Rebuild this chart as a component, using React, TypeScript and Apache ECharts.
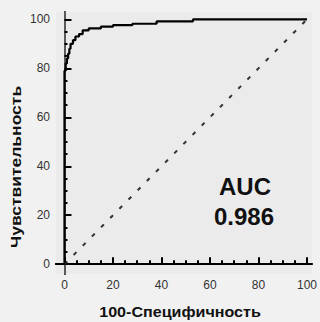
import React, { useEffect, useRef } from "react";
import * as echarts from "echarts";

const rocX = [0, 0, 0.5, 0.5, 1, 1, 1.5, 1.5, 2, 2, 2.5, 2.5, 3.5, 3.5, 4.5, 4.5, 6, 6, 7.5, 7.5, 10, 10, 15, 15, 20, 20, 28, 28, 38, 38, 53, 53, 100];
const rocY = [0, 79, 79, 82, 82, 84, 84, 86, 86, 88, 88, 90, 90, 91.5, 91.5, 93, 93, 94, 94, 95.5, 95.5, 96.3, 96.3, 97, 97, 97.6, 97.6, 98.2, 98.2, 99.2, 99.2, 100, 100];
const diagX = [0, 100];
const diagY = [0, 100];
const majorTicks = [0, 20, 40, 60, 80, 100];
const minorTicks = [5, 10, 15, 25, 30, 35, 45, 50, 55, 65, 70, 75, 85, 90, 95];
const xTitle = "100-Специфичность";
const yTitle = "Чувствительность";
const aucLabel = "AUC";
const aucValue = "0.986";

const X_MIN = -3.5, X_MAX = 102, Y_MIN = -4, Y_MAX = 103;

export default function App() {
  const ref = useRef<HTMLDivElement>(null);
  useEffect(() => {
    if (!ref.current) return;
    const chart = echarts.init(ref.current, null, { renderer: "svg" });
    const font = "Liberation Sans";
    const baseAxis = (extra: any) => ({
      type: "value",
      min: extra.isX ? X_MIN : Y_MIN,
      max: extra.isX ? X_MAX : Y_MAX,
      splitLine: { show: false },
      ...extra.opts,
    });
    chart.setOption({
      animation: false,
      backgroundColor: "#f1f1f1",
      grid: { left: 56, right: 7, top: 12, bottom: 48, show: true, backgroundColor: "#ebebeb", borderWidth: 0 },
      xAxis: [
        baseAxis({ isX: true, opts: {
          position: "bottom",
          axisLine: { show: true, lineStyle: { color: "#000", width: 2 } },
          axisTick: { show: true, inside: true, length: 7, customValues: majorTicks, lineStyle: { color: "#000", width: 2 } },
          axisLabel: { show: true, customValues: majorTicks, margin: 5, color: "#333", fontSize: 12, fontFamily: font },
        } }),
        baseAxis({ isX: true, opts: {
          position: "bottom",
          axisLine: { show: false },
          axisTick: { show: true, inside: true, length: 4, customValues: minorTicks, lineStyle: { color: "#000", width: 2 } },
          axisLabel: { show: false },
        } }),
        baseAxis({ isX: true, opts: {
          position: "top",
          axisLine: { show: true, lineStyle: { color: "#000", width: 2 } },
          axisTick: { show: false },
          axisLabel: { show: false },
        } }),
      ],
      yAxis: [
        baseAxis({ isX: false, opts: {
          position: "left",
          axisLine: { show: true, lineStyle: { color: "#000", width: 2 } },
          axisTick: { show: true, inside: true, length: 7, customValues: majorTicks, lineStyle: { color: "#000", width: 2 } },
          axisLabel: { show: true, customValues: majorTicks, margin: 6, color: "#333", fontSize: 12, fontFamily: font },
        } }),
        baseAxis({ isX: false, opts: {
          position: "left",
          axisLine: { show: false },
          axisTick: { show: true, inside: true, length: 3, customValues: minorTicks, lineStyle: { color: "#000", width: 2 } },
          axisLabel: { show: false },
        } }),
        baseAxis({ isX: false, opts: {
          position: "right",
          axisLine: { show: true, lineStyle: { color: "#777", width: 1.5 } },
          axisTick: { show: false },
          axisLabel: { show: false },
        } }),
      ],
      series: [
        {
          type: "line",
          data: diagX.map((x, i) => [x, diagY[i]]),
          symbol: "none",
          lineStyle: { color: "#333", width: 2, type: [4, 9] },
          silent: true,
        },
        {
          type: "line",
          data: rocX.map((x, i) => [x, rocY[i]]),
          symbol: "none",
          lineStyle: { color: "#000", width: 2.2 },
          silent: true,
        },
      ],
      graphic: [
        { type: "text", x: 180, y: 312, scaleX: 1.15, style: { text: xTitle, font: `bold 14px '${font}'`, fill: "#111", align: "center", verticalAlign: "middle" } },
        { type: "text", x: 16, y: 167, rotation: Math.PI / 2, scaleX: 1.25, style: { text: yTitle, font: `bold 14px '${font}'`, fill: "#111", align: "center", verticalAlign: "middle" } },
        { type: "text", x: 245, y: 186, style: { text: aucLabel, font: `bold 24px '${font}'`, fill: "#111", align: "center", verticalAlign: "middle" } },
        { type: "text", x: 244, y: 216, style: { text: aucValue, font: `bold 24px '${font}'`, fill: "#111", align: "center", verticalAlign: "middle" } },
      ],
    });
    return () => chart.dispose();
  }, []);
  return <div ref={ref} style={{ position: "fixed", left: 0, top: 0, width: 320, height: 322 }} />;
}
